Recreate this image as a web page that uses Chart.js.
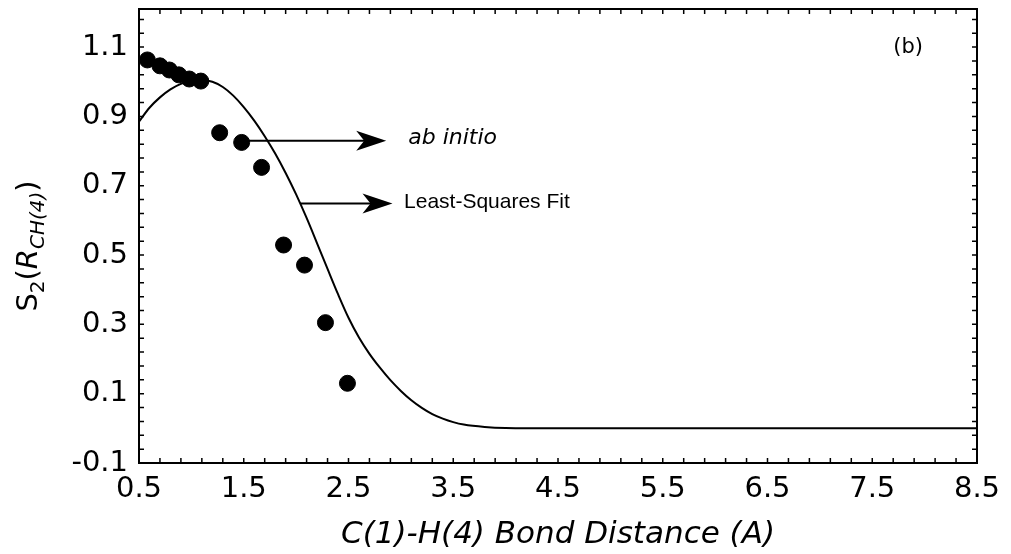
<!DOCTYPE html>
<html>
<head>
<meta charset="utf-8">
<script src="https://cdn.jsdelivr.net/npm/chart.js@4.4.0/dist/chart.umd.min.js"></script>
<style>
  html, body { margin: 0; padding: 0; background: #fff; }
</style>
</head>
<body>
<canvas id="chart" width="1011" height="554"></canvas>
<script>
// ab initio points
const abInitioX = [0.58, 0.70, 0.79, 0.88, 0.98, 1.09, 1.27, 1.48, 1.67, 1.88, 2.08, 2.28, 2.49];
const abInitioY = [1.063, 1.046, 1.034, 1.020, 1.008, 1.002, 0.853, 0.825, 0.753, 0.529, 0.471, 0.305, 0.130];

// least-squares fit curve
const fitX = [0.5, 0.6, 0.7, 0.8, 0.9, 1.0, 1.1, 1.2, 1.3, 1.4, 1.5, 1.6, 1.7, 1.8, 1.9, 2.0,
              2.1, 2.2, 2.3, 2.4, 2.5, 2.6, 2.7, 2.8, 2.9, 3.0, 3.1, 3.2, 3.3, 3.4, 3.5, 3.6,
              3.8, 4.0, 4.5, 5.5, 6.5, 7.5, 8.5];
const fitY = [0.885, 0.925, 0.955, 0.978, 0.994, 1.002, 1.005, 1.000, 0.985, 0.960, 0.927, 0.888, 0.843, 0.793, 0.737, 0.675,
              0.607, 0.534, 0.460, 0.387, 0.319, 0.262, 0.215, 0.175, 0.139, 0.108, 0.081, 0.059, 0.041, 0.028, 0.018, 0.011,
              0.004, 0.001, 0, 0, 0, 0, 0];

// axis tick labels
const xTickValues = [0.5, 1.5, 2.5, 3.5, 4.5, 5.5, 6.5, 7.5, 8.5];
const yTickValues = [-0.1, 0.1, 0.3, 0.5, 0.7, 0.9, 1.1];

// annotations (data units)
const arrows = [
    { x1: 1.48, x2: 2.86, y: 0.830 },
    { x1: 2.04, x2: 2.92, y: 0.649 }
];
const notes = [
    { text: 'ab initio', x: 3.07, y: 0.838, font: 'italic 22px "DejaVu Sans"' },
    { text: 'Least-Squares Fit', x: 3.03, y: 0.652, font: '21px "Liberation Sans"' },
    { text: '(b)', x: 7.7, y: 1.1, font: '21px "DejaVu Sans"' }
];

const FONT = '"DejaVu Sans", sans-serif';

function drawArrow(ctx, x1, y, x2) {
    ctx.beginPath();
    ctx.moveTo(x1, y);
    ctx.lineTo(x2 - 20, y);
    ctx.stroke();
    ctx.beginPath();
    ctx.moveTo(x2, y);
    ctx.lineTo(x2 - 30, y - 10);
    ctx.lineTo(x2 - 22, y);
    ctx.lineTo(x2 - 30, y + 10);
    ctx.closePath();
    ctx.fill();
}

const framePlugin = {
    id: 'frame',
    afterDraw(chart) {
        const ctx = chart.ctx;
        const a = chart.chartArea;
        const xs = chart.scales.x, ys = chart.scales.y;
        ctx.save();
        ctx.strokeStyle = '#000';
        ctx.fillStyle = '#000';

        // box
        ctx.lineWidth = 2;
        ctx.strokeRect(a.left, a.top, a.right - a.left, a.bottom - a.top);

        // inward minor ticks
        ctx.lineWidth = 1.5;
        ctx.beginPath();
        for (let v = 0.7; v < 8.45; v += 0.2) {
            const px = xs.getPixelForValue(v);
            ctx.moveTo(px, a.bottom); ctx.lineTo(px, a.bottom - 5);
            ctx.moveTo(px, a.top); ctx.lineTo(px, a.top + 5);
        }
        for (let v = -0.06; v < 1.2; v += 0.04) {
            const py = ys.getPixelForValue(v);
            ctx.moveTo(a.left, py); ctx.lineTo(a.left + 5, py);
            ctx.moveTo(a.right, py); ctx.lineTo(a.right - 5, py);
        }
        ctx.stroke();

        // arrows
        ctx.lineWidth = 2;
        arrows.forEach(ar => {
            drawArrow(ctx, xs.getPixelForValue(ar.x1), ys.getPixelForValue(ar.y), xs.getPixelForValue(ar.x2));
        });

        // text notes
        ctx.textBaseline = 'middle';
        ctx.textAlign = 'left';
        notes.forEach(n => {
            ctx.font = n.font;
            ctx.fillText(n.text, xs.getPixelForValue(n.x), ys.getPixelForValue(n.y));
        });

        // y axis title with subscripts: S2(R CH(4))
        ctx.translate(37, 246);
        ctx.rotate(-Math.PI / 2);
        ctx.textBaseline = 'alphabetic';
        const parts = [
            { t: 'S', f: '29px ' + FONT, dy: 0 },
            { t: '2', f: '20px ' + FONT, dy: 7 },
            { t: '(', f: '29px ' + FONT, dy: 0 },
            { t: 'R', f: 'italic 29px ' + FONT, dy: 0 },
            { t: 'CH(4)', f: 'italic 20px ' + FONT, dy: 7 },
            { t: ')', f: '29px ' + FONT, dy: 0 }
        ];
        let total = 0;
        parts.forEach(p => { ctx.font = p.f; p.w = ctx.measureText(p.t).width; total += p.w; });
        let cx = -total / 2;
        parts.forEach(p => {
            ctx.font = p.f;
            ctx.fillText(p.t, cx, p.dy);
            cx += p.w;
        });
        ctx.restore();
    }
};

new Chart(document.getElementById('chart'), {
    type: 'scatter',
    data: {
        datasets: [
            {
                label: 'ab initio',
                data: abInitioX.map((x, i) => ({ x: x, y: abInitioY[i] })),
                backgroundColor: '#000',
                borderColor: '#000',
                pointRadius: 8,
                pointHoverRadius: 8,
                showLine: false,
                order: 1
            },
            {
                label: 'Least-Squares Fit',
                data: fitX.map((x, i) => ({ x: x, y: fitY[i] })),
                showLine: true,
                borderColor: '#000',
                borderWidth: 2,
                pointRadius: 0,
                cubicInterpolationMode: 'monotone',
                fill: false,
                order: 2
            }
        ]
    },
    options: {
        responsive: false,
        animation: false,
        layout: { padding: { left: 0, right: 34, top: 6, bottom: 0 } },
        plugins: {
            legend: { display: false },
            tooltip: { enabled: false }
        },
        scales: {
            x: {
                type: 'linear',
                min: 0.5,
                max: 8.5,
                afterBuildTicks: s => { s.ticks = xTickValues.map(v => ({ value: v })); },
                afterFit: s => { s.height = 91; s.paddingLeft = 0; s.paddingRight = 0; },
                grid: { display: false, drawTicks: false },
                border: { display: false },
                ticks: {
                    color: '#000',
                    padding: 9,
                    maxRotation: 0,
                    font: { family: FONT, size: 29 },
                    callback: v => v.toFixed(1)
                },
                title: {
                    display: true,
                    text: 'C(1)-H(4) Bond Distance (A)',
                    color: '#000',
                    font: { family: FONT, size: 31, style: 'italic' },
                    padding: { top: 2, bottom: 0 }
                }
            },
            y: {
                type: 'linear',
                min: -0.1,
                max: 1.21,
                afterBuildTicks: s => { s.ticks = yTickValues.map(v => ({ value: v })); },
                afterFit: s => { s.width = 139; s.paddingTop = 0; s.paddingBottom = 0; },
                grid: { display: false, drawTicks: false },
                border: { display: false },
                ticks: {
                    color: '#000',
                    padding: 11,
                    font: { family: FONT, size: 29 },
                    callback: v => v.toFixed(1)
                }
            }
        }
    },
    plugins: [framePlugin]
});
</script>
</body>
</html>
